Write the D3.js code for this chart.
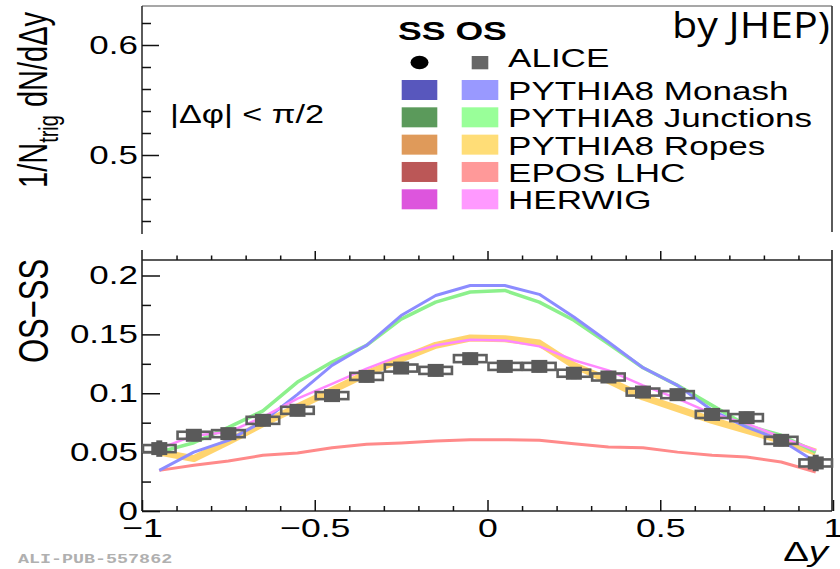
<!DOCTYPE html>
<html><head><meta charset="utf-8">
<script src="https://cdn.jsdelivr.net/npm/d3@7"></script>
<style>
body{margin:0;background:#fff}
svg{display:block}
</style>
</head><body>
<svg id="c" width="840" height="569" font-family='"Liberation Sans",Arial,Helvetica,sans-serif'></svg>
<script>
// ---------------- data ----------------
const binCenters = [-0.95,-0.85,-0.75,-0.65,-0.55,-0.45,-0.35,-0.25,-0.15,-0.05,0.05,0.15,0.25,0.35,0.45,0.55,0.65,0.75,0.85,0.95];
const binHalfWidth = 0.05;
const aliceOSminusSS = [0.053,0.0643,0.0657,0.077,0.0855,0.098,0.1143,0.1214,0.1194,0.1294,0.1228,0.1228,0.117,0.1138,0.101,0.0988,0.082,0.0793,0.060,0.0408];
const aliceStat = [0.007,0.005,0.005,0.005,0.005,0.005,0.005,0.005,0.005,0.005,0.005,0.005,0.005,0.005,0.005,0.005,0.005,0.005,0.005,0.007];
const aliceSyst = [0.003,0.003,0.003,0.003,0.003,0.003,0.003,0.003,0.003,0.003,0.003,0.003,0.003,0.003,0.003,0.003,0.003,0.003,0.003,0.003];
const monash    = [0.0345,0.050,0.060,0.076,0.099,0.1237,0.1407,0.166,0.183,0.1915,0.1915,0.184,0.1647,0.1435,0.1217,0.1067,0.0855,0.0713,0.060,0.0416];
const junctions = [0.050,0.058,0.071,0.085,0.1095,0.1265,0.1407,0.163,0.1774,0.186,0.1873,0.1774,0.162,0.142,0.1217,0.1067,0.0897,0.0727,0.0643,0.050];
const ropes     = [0.050,0.0445,0.059,0.0742,0.0883,0.1025,0.1166,0.129,0.1407,0.1469,0.1463,0.1426,0.1237,0.111,0.0968,0.087,0.077,0.0685,0.060,0.050];
const eposLHC   = [0.0345,0.0388,0.0425,0.0473,0.0492,0.0538,0.0566,0.0577,0.0594,0.0606,0.0606,0.060,0.0572,0.0543,0.0538,0.050,0.0473,0.0458,0.0416,0.0331];
const herwig    = [0.053,0.064,0.067,0.0798,0.0954,0.108,0.1209,0.1322,0.1407,0.1455,0.1449,0.1398,0.128,0.1194,0.1067,0.0954,0.0827,0.0742,0.0628,0.0515];

const xMajorTicks = [-1,-0.5,0,0.5,1];
const xMajorLabels = ["\u22121","\u22120.5","0","0.5","1"];
const xMinorTicks = [-0.9,-0.8,-0.7,-0.6,-0.4,-0.3,-0.2,-0.1,0.1,0.2,0.3,0.4,0.6,0.7,0.8,0.9];
const yBotMajor = [0,0.05,0.1,0.15,0.2];
const yBotLabels = ["0","0.05","0.1","0.15","0.2"];
const yBotMinor = [0.025,0.075,0.125,0.175];
const yTopMajor = [0.5,0.6];
const yTopLabels = ["0.5","0.6"];
const yTopMinor = [0.44,0.46,0.48,0.52,0.54,0.56,0.58,0.62];

const legendNames = ["PYTHIA8 Monash","PYTHIA8 Junctions","PYTHIA8 Ropes","EPOS LHC","HERWIG"];
const ssColors = ["#5857bd","#5b9a5b","#df9a5a","#bb5757","#dd55dd"];
const osColors = ["#9999ff","#99ff99","#ffdd77","#ff9999","#ff99ff"];

// ---------------- drawing ----------------
const SX = 1.37; // horizontal stretch of the text in the reference
const svg = d3.select("#c");
const x = d3.scaleLinear([-1,1],[142,833]);
const yB = d3.scaleLinear([0,0.2],[511,275.5]);
const yT = d3.scaleLinear([0.5,0.6],[155,45]);
const FONT = '"Liberation Sans",Arial,Helvetica,sans-serif';

function styleAxis(g, fs){
  g.attr("font-family", FONT).attr("font-size", fs);
  g.select(".domain").remove();
  g.selectAll(".tick line").attr("stroke","#111").attr("stroke-width",1.5);
  g.selectAll(".tick text").attr("fill","#000").attr("transform",`scale(${SX},1)`);
}
function line(x1,y1,x2,y2,col,w){
  svg.append("line").attr("x1",x1).attr("y1",y1).attr("x2",x2).attr("y2",y2)
    .attr("stroke",col||"#222").attr("stroke-width",w||1.6);
}

// ---- top panel ----
line(142,6,832,6,"#8a8a8a",1.4);
line(142,6,142,234,"#333",1.6);
line(832,6,832,232,"#333",1.6);
svg.append("g").attr("transform","translate(142,0)")
  .call(d3.axisLeft(yT).tickValues(yTopMajor).tickSize(-17).tickPadding(3).tickFormat((d,i)=>yTopLabels[i]))
  .call(g=>styleAxis(g,25.5));
svg.append("g").attr("transform","translate(142,0)")
  .call(d3.axisLeft(yT).tickValues(yTopMinor).tickSize(-9).tickFormat(""))
  .call(g=>styleAxis(g,25.5));

// top label 1/N_trig dN/dΔy
const tl = svg.append("text").attr("transform",`translate(47,100) scale(${SX},1) rotate(-90)`)
  .attr("text-anchor","middle").attr("font-size",29).attr("fill","#000");
tl.append("tspan").text("1/N");
tl.append("tspan").attr("font-size",20).attr("dy",8).text("trig");
tl.append("tspan").attr("dy",-8).attr("dx",8).text("dN/d\u0394y");

svg.append("text").attr("transform",`translate(170,123) scale(${SX},1)`)
  .attr("font-size",25).text("|\u0394\u03C6| < \u03C0/2");

// legend
svg.append("text").attr("transform",`translate(398,40) scale(${SX},1)`)
  .attr("font-size",26).attr("font-weight","bold").text("SS OS");
svg.append("ellipse").attr("cx",419.5).attr("cy",62.5).attr("rx",9).attr("ry",6.8).attr("fill","#000");
svg.append("rect").attr("x",471.7).attr("y",56).attr("width",16.6).attr("height",13.3).attr("fill","#666");
svg.append("text").attr("transform",`translate(508,67) scale(${SX},1)`).attr("font-size",25.6).text("ALICE");
const rowTop = d3.scaleLinear([0,4],[80,189.3]);
legendNames.forEach((n,i)=>{
  const t = rowTop(i);
  svg.append("rect").attr("x",401.7).attr("y",t).attr("width",35.6).attr("height",20).attr("fill",ssColors[i]);
  svg.append("rect").attr("x",461.7).attr("y",t).attr("width",36.6).attr("height",20).attr("fill",osColors[i]);
  svg.append("text").attr("transform",`translate(508,${t+20}) scale(${SX},1)`).attr("font-size",25.6).text(n);
});
svg.append("text").attr("x",672).attr("y",37.5).style("font-family",'"Open Sans","DejaVu Sans",sans-serif')
  .attr("font-size",36).attr("textLength",158).attr("lengthAdjust","spacingAndGlyphs").text("by JHEP)");

// ---- bottom panel ----
line(142,250,142,511,"#222",1.6);
line(142,511,832,511,"#222",1.6);
line(142,260,832,260,"#222",1.6);
line(832,250,832,511,"#222",1.6);

svg.append("g").attr("transform","translate(142,0)")
  .call(d3.axisLeft(yB).tickValues(yBotMajor).tickSize(-18).tickPadding(3).tickFormat((d,i)=>yBotLabels[i]))
  .call(g=>styleAxis(g,25.5));
svg.append("g").attr("transform","translate(142,0)")
  .call(d3.axisLeft(yB).tickValues(yBotMinor).tickSize(-9).tickFormat(""))
  .call(g=>styleAxis(g,25.5));
svg.append("g").attr("transform","translate(0,511)")
  .call(d3.axisBottom(x).tickValues(xMajorTicks).tickSize(-11).tickPadding(8).tickFormat((d,i)=>xMajorLabels[i]))
  .call(g=>styleAxis(g,26));
svg.append("g").attr("transform","translate(0,511)")
  .call(d3.axisBottom(x).tickValues(xMinorTicks).tickSize(-5).tickFormat(""))
  .call(g=>styleAxis(g,26));
svg.append("g").attr("transform","translate(0,260)")
  .call(d3.axisTop(x).tickValues(xMajorTicks.slice(1,4)).tickSize(9).tickFormat(""))
  .call(g=>styleAxis(g,26));
svg.append("g").attr("transform","translate(0,260)")
  .call(d3.axisTop(x).tickValues(xMinorTicks).tickSize(4.5).tickFormat(""))
  .call(g=>styleAxis(g,26));

svg.append("text").attr("transform",`translate(48,311) scale(${SX},1) rotate(-90)`)
  .attr("text-anchor","middle").attr("font-size",31).text("OS\u2212SS");
const dy = svg.append("text").attr("transform",`translate(828,561) scale(${SX},1)`)
  .attr("text-anchor","end").attr("font-size",28);
dy.append("tspan").text("\u0394");
dy.append("tspan").attr("font-style","italic").text("y");

svg.append("text").attr("transform",`translate(18,563) scale(${SX},1)`)
  .style("font-family",'"Liberation Mono","DejaVu Sans Mono",monospace').attr("font-weight","bold")
  .attr("font-size",13.4).attr("fill","#b0b0b0").text("ALI-PUB-557862");

// model curves
const lineGen = d3.line().x((d,i)=>x(binCenters[i])).y(d=>yB(d));
const curves = [
  {v:ropes, c:"#ffcc55", w:7, o:0.85},
  {v:eposLHC, c:"#ff8a8a", w:3, o:1},
  {v:junctions, c:"#8cf08c", w:3.5, o:1},
  {v:monash, c:"#8c8cff", w:3, o:1},
  {v:herwig, c:"#ff88ff", w:2.5, o:1}
];
curves.forEach(cv=>{
  svg.append("path").attr("d",lineGen(cv.v)).attr("fill","none")
    .attr("stroke",cv.c).attr("stroke-width",cv.w).attr("stroke-opacity",cv.o)
    .attr("stroke-linejoin","round");
});

// ALICE data
const pts = svg.append("g");
binCenters.forEach((c,i)=>{
  const v = aliceOSminusSS[i];
  pts.append("rect").attr("x",x(c-binHalfWidth)+1).attr("y",yB(v+aliceSyst[i]))
    .attr("width",x(c+binHalfWidth)-x(c-binHalfWidth)-2).attr("height",yB(v-aliceSyst[i])-yB(v+aliceSyst[i]))
    .attr("fill","none").attr("stroke","#5f5f5f").attr("stroke-width",2.6);
  pts.append("line").attr("x1",x(c)).attr("x2",x(c)).attr("y1",yB(v-aliceStat[i])).attr("y2",yB(v+aliceStat[i]))
    .attr("stroke","#5a5a5a").attr("stroke-width",6);
  pts.append("rect").attr("x",x(c)-8).attr("y",yB(v)-6.5).attr("width",16).attr("height",13).attr("fill","#5a5a5a");
});
</script>
</body></html>
